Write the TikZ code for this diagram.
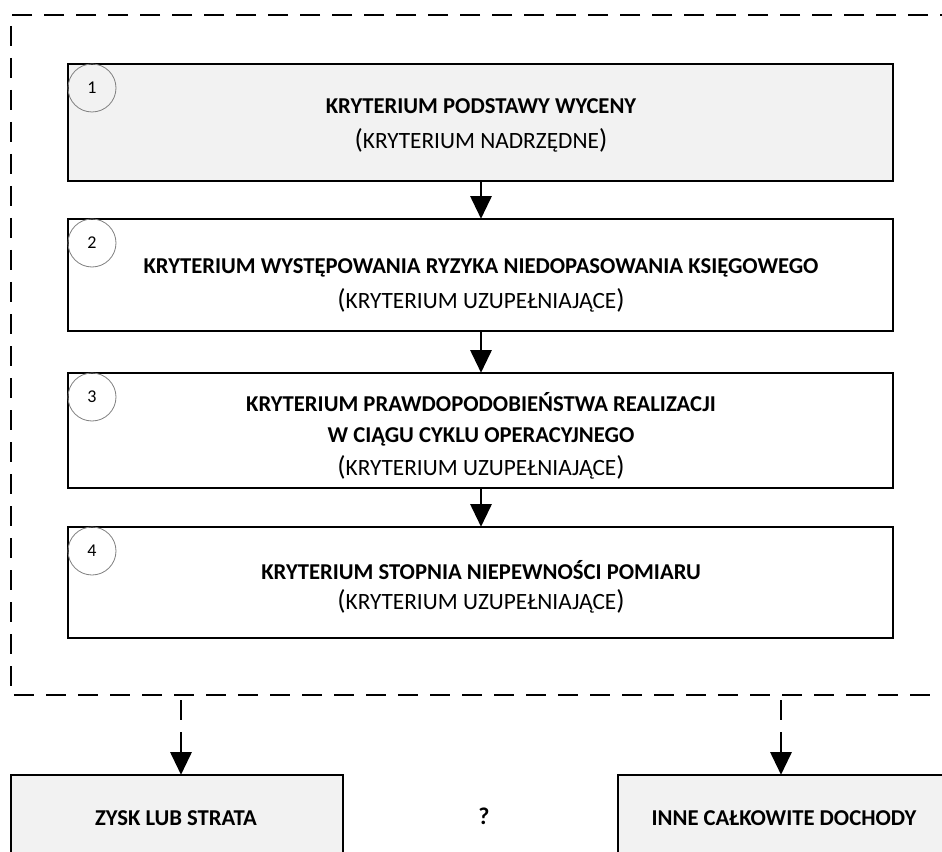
\documentclass[tikz,border=0pt]{standalone}
\usepackage{fontspec}
\setmainfont{Carlito}
\usetikzlibrary{arrows.meta}
\definecolor{boxgray}{HTML}{F2F2F2}
\definecolor{circgray}{HTML}{7F7F7F}
\newcommand{\bigpar}[1]{{\fontsize{20.5}{20}\selectfont #1}}
\tikzset{
  critbox/.style={draw=black, line width=1.5pt},
  circnum/.style={circle, draw=circgray, line width=0.6pt, minimum size=36pt, inner sep=0pt, font=\fontsize{13.5}{15}\selectfont},
  btxt/.style={font=\fontsize{17}{20}\selectfont\bfseries, inner sep=0pt},
  rtxt/.style={font=\fontsize{17.5}{20}\selectfont, inner sep=0pt},
  flow/.style={line width=1.5pt, -{Triangle[length=17pt,width=16pt]}},
  dflow/.style={line width=1.5pt, dash pattern=on 15pt off 9pt, -{Triangle[length=17pt,width=16pt]}},
  outer/.style={line width=1.5pt, dash pattern=on 15pt off 9pt},
}
\begin{document}
\begin{tikzpicture}[x=0.75pt,y=-0.75pt]
\useasboundingbox (0,0) rectangle (942,852);
% outer dashed frame
\draw[outer] (960,15) -- (11,15) -- (11,695) -- (960,695);
% boxes
\filldraw[critbox, fill=boxgray] (68,64) rectangle (893,181);
\node[minimum width=825*0.75pt, minimum height=117*0.75pt, inner sep=0pt] (b1) at (480.5,122.5) {};
\draw[critbox] (68,219) rectangle (893,331);
\node[minimum width=825*0.75pt, minimum height=112*0.75pt, inner sep=0pt] (b2) at (480.5,275) {};
\draw[critbox] (68,373) rectangle (893,488);
\node[minimum width=825*0.75pt, minimum height=115*0.75pt, inner sep=0pt] (b3) at (480.5,430.5) {};
\draw[critbox] (68,527) rectangle (893,638);
\node[minimum width=825*0.75pt, minimum height=111*0.75pt, inner sep=0pt] (b4) at (480.5,582.5) {};
% circles
\node[circnum] (c1) at (92,88) {1};
\node[circnum] (c2) at (92,243) {2};
\node[circnum] (c3) at (92,397) {3};
\node[circnum] (c4) at (92,551) {4};
% texts
\node[btxt] (t1a) at (481,106) {KRYTERIUM PODSTAWY WYCENY};
\node[rtxt] (t1b) at (481,140) {\bigpar{(}KRYTERIUM NADRZĘDNE\bigpar{)}};
\node[btxt] (t2a) at (481,268) {KRYTERIUM WYSTĘPOWANIA RYZYKA NIEDOPASOWANIA KSIĘGOWEGO};
\node[rtxt] (t2b) at (481,300) {\bigpar{(}KRYTERIUM UZUPEŁNIAJĄCE\bigpar{)}};
\node[btxt] (t3a) at (481,402) {KRYTERIUM PRAWDOPODOBIEŃSTWA REALIZACJI};
\node[btxt] (t3b) at (481,437) {W CIĄGU CYKLU OPERACYJNEGO};
\node[rtxt] (t3c) at (481,467) {\bigpar{(}KRYTERIUM UZUPEŁNIAJĄCE\bigpar{)}};
\node[btxt] (t4a) at (481,570) {KRYTERIUM STOPNIA NIEPEWNOŚCI POMIARU};
\node[rtxt] (t4b) at (481,601) {\bigpar{(}KRYTERIUM UZUPEŁNIAJĄCE\bigpar{)}};
% arrows between boxes
\draw[flow] (b1.south -| 481,0) -- (b2.north -| 481,0);
\draw[flow] (b2.south -| 481,0) -- (b3.north -| 481,0);
\draw[flow] (b3.south -| 481,0) -- (b4.north -| 481,0);
% bottom boxes
\filldraw[critbox, fill=boxgray] (11,775) rectangle (343,870);
\filldraw[critbox, fill=boxgray] (618,775) rectangle (960,870);
\node[inner sep=0pt, minimum width=332*0.75pt, minimum height=95*0.75pt] (zysk) at (177,822.5) {};
\node[inner sep=0pt, minimum width=342*0.75pt, minimum height=95*0.75pt] (inne) at (789,822.5) {};
\node[btxt] (zt) at (176,818) {ZYSK LUB STRATA};
\node[btxt] (it) at (784,818) {INNE CAŁKOWITE DOCHODY};
\node[btxt, font=\fontsize{18}{20}\selectfont\bfseries] (q) at (484,816) {?};
% dashed arrows
\coordinate (s1) at (181,700);
\coordinate (s2) at (781,700);
\draw[dflow] (s1) -- (s1 |- zysk.north);
\draw[dflow] (s2) -- (s2 |- inne.north);
\end{tikzpicture}
\end{document}
